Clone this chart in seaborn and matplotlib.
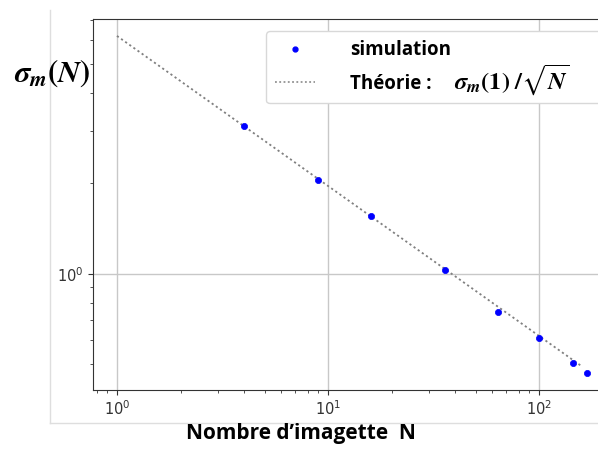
import matplotlib
matplotlib.use("Agg")
import matplotlib.pyplot as plt
import matplotlib.ticker as mticker
from matplotlib.font_manager import FontProperties
from matplotlib.lines import Line2D
from matplotlib.transforms import IdentityTransform
import seaborn as sns
import pandas as pd

# --- data ---
N_sim = [4, 9, 16, 36, 64, 100, 144, 169]
sigma_sim = [3.11, 2.05, 1.56, 1.03, 0.747, 0.609, 0.503, 0.467]
N_theory = [1, 160]
sigma_theory = [6.2, 0.49]

sim = pd.DataFrame({"N": N_sim, "sigma": sigma_sim})
theo = pd.DataFrame({"N": N_theory, "sigma": sigma_theory})

W, H = 598, 450
fig = plt.figure(figsize=(W / 100, H / 100), dpi=100)
ax = fig.add_axes([93 / W, 1 - 390 / H, (W - 93) / W, (390 - 19) / H])

sns.lineplot(data=theo, x="N", y="sigma", ax=ax, color="#808080",
             linestyle=(0, (1.2, 1.6)), linewidth=1.3, label="theory")
sns.scatterplot(data=sim, x="N", y="sigma", ax=ax, color="blue",
                edgecolor="blue", s=20, linewidth=0.5, label="sim", zorder=3)

ax.set_xscale("log")
ax.set_yscale("log")
ax.set_xlim(0.77, 190)
ax.set_ylim(0.4096, 7.06)
ax.xaxis.set_minor_formatter(mticker.NullFormatter())
ax.yaxis.set_minor_formatter(mticker.NullFormatter())
ax.grid(True, which="major", color="#c8c8c8", linewidth=1.0)
ax.set_axisbelow(True)
ax.spines["right"].set_visible(False)
for s in ("left", "bottom", "top"):
    ax.spines[s].set_color("#333333")
ax.tick_params(which="both", labelsize=10.5, colors="#333333")
ax.set_xlabel("")
ax.set_ylabel("")

# legend
leg_prop = FontProperties(family=["Open Sans", "DejaVu Sans"], weight="bold",
                          size=13.5)
h_sim = Line2D([], [], linestyle="none", marker="o", markersize=3.5,
               color="blue")
h_theo = Line2D([], [], color="#808080", linestyle=(0, (1.2, 1.6)),
                linewidth=1.1)
ax_w = W - 93
ax_h = 390 - 19
leg = ax.legend([h_sim, h_theo], ["simulation", "Théorie :"],
                prop=leg_prop, loc="upper left",
                bbox_to_anchor=((266 - 93) / ax_w, (390 - 31) / ax_h,
                                (620 - 266) / ax_w, 0.0),
                mode="expand",
                borderaxespad=0, handlelength=2.1, handletextpad=1.9,
                labelspacing=0.72, borderpad=0.5, framealpha=1,
                edgecolor="#d8d8d8")

# overlay labels
fig.text(52 / W, 1 - 73 / H,
         r"$\mathbfit{\sigma}_{\mathbfit{m}}\mathbf{(}\mathbfit{N}\mathbf{)}$",
         ha="center", va="center", fontsize=22, math_fontfamily="stix")
fig.text(301 / W, 1 - 434 / H, "Nombre d’imagette  N", ha="center",
         va="center", fontsize=15, fontweight="bold",
         family=["Open Sans", "DejaVu Sans"])

# math part of the theory label, placed right after the legend text
fig.canvas.draw()
t2 = leg.get_texts()[1]
bb = t2.get_window_extent()
x0, y0 = t2.get_transform().transform(t2.get_position())
fig.text(bb.x1 + 22, y0,
         r"$\mathbfit{\sigma}_{\mathbfit{m}}\mathbf{(1)}\ \mathbf{/}\sqrt{\mathbfit{N}}$",
         transform=IdentityTransform(), ha="left", va="baseline",
         fontsize=17.5, math_fontfamily="stix", zorder=10)

# light frame of the embedded figure
fig.add_artist(Line2D([50 / W, 50 / W], [1 - 10 / H, 1 - 423 / H],
                      transform=fig.transFigure, color="#dedede", lw=1))
fig.add_artist(Line2D([50 / W, 1.0], [1 - 423 / H, 1 - 423 / H],
                      transform=fig.transFigure, color="#dedede", lw=1))

fig.savefig("out.png", dpi=100)
